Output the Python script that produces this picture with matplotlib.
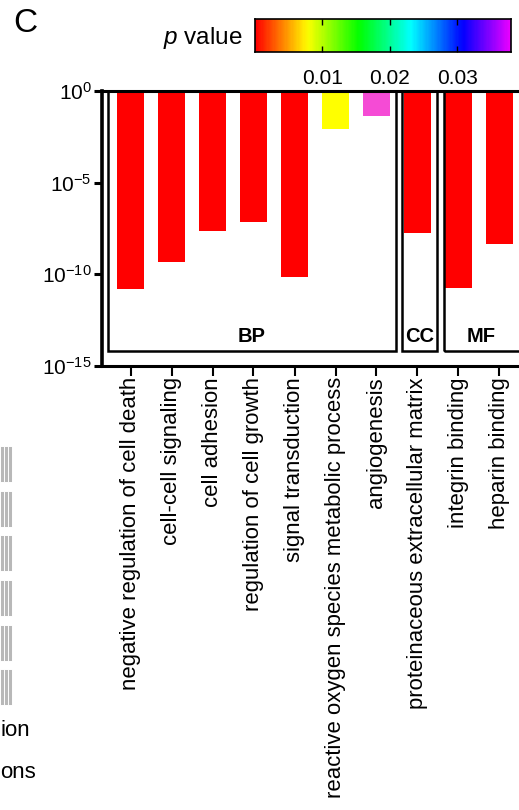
import numpy as np
import matplotlib
matplotlib.use("Agg")
import matplotlib.pyplot as plt
from matplotlib.colors import LinearSegmentedColormap
from matplotlib.patches import Rectangle
from matplotlib.lines import Line2D

plt.rcParams['font.family'] = ['Liberation Sans', 'DejaVu Sans']
plt.rcParams['mathtext.fontset'] = 'custom'
plt.rcParams['mathtext.rm'] = 'Liberation Sans'
plt.rcParams['mathtext.it'] = 'Liberation Sans:italic'
plt.rcParams['mathtext.bf'] = 'Liberation Sans:bold'

# GO terms and p values
terms = ["negative regulation of cell death", "cell-cell signaling", "cell adhesion",
         "regulation of cell growth", "signal transduction",
         "reactive oxygen species metabolic process", "angiogenesis",
         "proteinaceous extracellular matrix", "integrin binding", "heparin binding"]
p_values = [1.6e-11, 5.0e-10, 2.4e-8, 6.9e-8, 7.4e-11, 8.9e-3, 4.4e-2, 1.7e-8, 1.7e-11, 4.4e-9]
bar_colors = ["#ff0000", "#ff0000", "#ff0000", "#ff0000", "#ff0000",
              "#ffff00", "#f54bd5", "#ff0000", "#ff0000", "#ff0000"]

groups = ["BP", "CC", "MF"]
group_first = [0, 7, 8]
group_last = [6, 7, 9]

cbar_ticks = [0.01, 0.02, 0.03]
cbar_max = 0.038

fig = plt.figure(figsize=(5.19, 8.10), dpi=100)

# main axes
x0 = 101.5
unit = 41.0
first_c = 130.5
xmin = (x0 - first_c) / unit
xmax = 10.3
ax = fig.add_axes([x0 / 519, (810 - 366) / 810, (first_c + xmax * unit - x0) / 519, 275 / 810])

x = np.arange(len(terms))
p = np.array(p_values)
ax.bar(x, 1 - p, bottom=p, width=0.66, color=bar_colors, edgecolor='none')
ax.set_yscale('log')
ax.set_ylim(1e-15, 1)
ax.set_xlim(xmin, xmax)

ax.set_yticks([1, 1e-5, 1e-10, 1e-15])
ax.set_yticklabels([r'$10^0$', r'$10^{-5}$', r'$10^{-10}$', r'$10^{-15}$'])
ax.minorticks_off()
ax.set_xticks(x)
ax.set_xticklabels(terms, rotation=90, fontsize=15.9, va='top', ha='center')
ax.tick_params(axis='y', labelsize=15, length=6, width=2.2, pad=1)
ax.tick_params(axis='x', length=7, width=1.5, pad=1)
ax.spines['right'].set_visible(False)
ax.spines['left'].set_linewidth(2.6)
ax.spines['bottom'].set_linewidth(2.2)
ax.spines['top'].set_linewidth(2.2)

# group boxes
left_pad = [0.55, 0.38, 0.36]
box_bottom = 10 ** -14.2
for g, f, l, lp in zip(groups, group_first, group_last, left_pad):
    left = f - lp
    right = l + 0.48 if g != "MF" else l + 0.9
    ax.add_patch(Rectangle((left, box_bottom), right - left, 1 - box_bottom,
                           fill=False, edgecolor='black', lw=1.8, zorder=3))
    cx = (left + min(right, l + 0.48)) / 2
    ax.text(cx, 10 ** -13.4, g, ha='center', va='center', fontsize=14.5, fontweight='bold')

# colorbar
cmap = LinearSegmentedColormap.from_list('rb', plt.cm.hsv(np.linspace(0, 5 / 6, 256)))
cax = fig.add_axes([255 / 519, (810 - 52) / 810, 256 / 519, 33 / 810])
grad = np.linspace(0, cbar_max, 256).reshape(1, -1)
cax.imshow(grad, aspect='auto', cmap=cmap, extent=[0, cbar_max, 0, 1])
cax.set_yticks([])
cax.set_xticks(cbar_ticks)
cax.set_xticklabels([str(t) for t in cbar_ticks])
cax.tick_params(axis='x', direction='in', top=True, length=4, width=1, labelsize=15, pad=12)
for s in cax.spines.values():
    s.set_linewidth(1.2)
fig.text(243 / 519, 1 - 38 / 810, r'$p$ value', ha='right', va='center', fontsize=17.5)

fig.text(13 / 519, 1 - 24 / 810, 'C', ha='left', va='center', fontsize=24)

# cropped remains of the neighbouring panel
for yy in [448, 493, 537, 582, 627, 671]:
    for xx in [1.5, 5.5, 9.5]:
        fig.add_artist(Line2D([xx / 519, xx / 519], [1 - yy / 810, 1 - (yy + 32) / 810],
                              color='#b8b8b8', lw=2.2))
fig.text(0.0, 1 - 731 / 810, 'ion', ha='left', va='center', fontsize=16)
fig.text(0.0, 1 - 773 / 810, 'ons', ha='left', va='center', fontsize=16)

fig.savefig('out.png', dpi=100)
